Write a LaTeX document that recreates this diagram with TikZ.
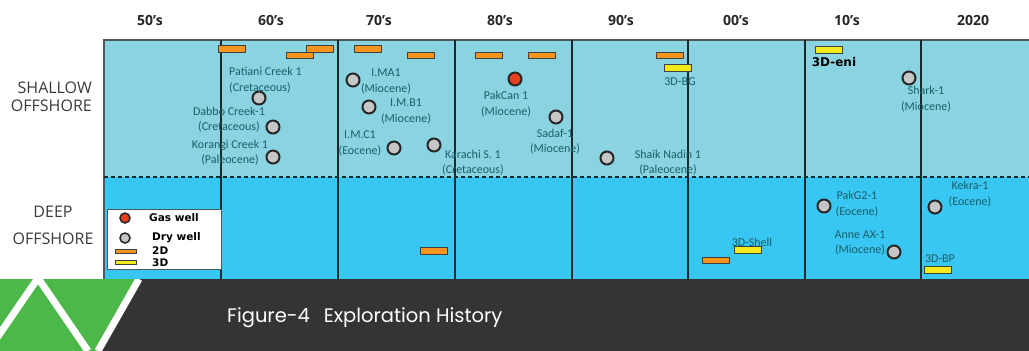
\documentclass[tikz,border=0pt]{standalone}
\usepackage{fontspec}
\setmainfont{Carlito}
\newfontfamily\hdrfont{Open Sans}
\newfontfamily\popfont{Poppins}
\newfontfamily\legfont{DejaVu Sans}
\definecolor{shallowblue}{HTML}{8AD3E1}
\definecolor{deepblue}{HTML}{38C6F2}
\definecolor{labelteal}{HTML}{1A5F69}
\definecolor{gridline}{HTML}{1A2A2C}
\definecolor{frameline}{HTML}{4D5A5C}
\definecolor{barorange}{HTML}{F7941D}
\definecolor{baryellow}{HTML}{F2EA1A}
\definecolor{wellgrey}{HTML}{C6C6C6}
\definecolor{wellred}{HTML}{E8401C}
\definecolor{darkband}{HTML}{333434}
\definecolor{logogreen}{HTML}{4DB84A}
\definecolor{sidetext}{HTML}{3A3A3A}
\tikzset{
  drywell/.style={circle, draw=black!85, line width=2, fill=wellgrey, inner sep=0, minimum size=13},
  gaswell/.style={circle, draw=black!85, line width=2, fill=wellred, inner sep=0, minimum size=13},
  orangebar/.style={rectangle, draw=black!75, line width=0.9, fill=barorange, inner sep=0, minimum width=27, minimum height=6.5},
  yellowbar/.style={rectangle, draw=black!75, line width=0.9, fill=baryellow, inner sep=0, minimum width=27, minimum height=6.5},
  lbl/.style={text=labelteal, font=\fontsize{12}{15.5}\selectfont, align=center, inner sep=0},
  hdr/.style={font=\hdrfont\bfseries\fontsize{14}{16}\selectfont, text=black!85, inner sep=0},
  side/.style={text=sidetext, inner sep=0},
  legtext/.style={font=\legfont\bfseries\fontsize{10.5}{12}\selectfont, text=black, inner sep=0, anchor=west},
  gridv/.style={draw=gridline, line width=1.5},
}
\begin{document}
\begin{tikzpicture}[x=1pt,y=-1pt]
\useasboundingbox (0,0) rectangle (1029,351);
\fill[white] (0,0) rectangle (1029,351);
% regions
\fill[shallowblue] (104,40) rectangle (1029,177);
\fill[deepblue] (104,177) rectangle (1029,279);
\draw[frameline, line width=1.5] (104,279) -- (104,40) -- (1029,40);
\foreach \x in {221,338,455,572,688,805,921}{
  \draw[gridv] (\x,40) -- (\x,279);
}
\draw[gridline, line width=1.2, dash pattern=on 4 off 3] (104,177) -- (1029,177);

% headers
\node[hdr] (h50) at (150,20) {50’s};
\node[hdr] (h60) at (271,20) {60’s};
\node[hdr] (h70) at (379,20) {70’s};
\node[hdr] (h80) at (500,20) {80’s};
\node[hdr] (h90) at (621,20) {90’s};
\node[hdr] (h00) at (736,20) {00’s};
\node[hdr] (h10) at (847,20) {10’s};
\node[hdr] (h20) at (973,20) {2020};

% side labels
\node[side, align=right, anchor=east, font=\hdrfont\fontsize{16}{18}\selectfont] (shallow) at (92,97) {SHALLOW\\OFFSHORE};
\node[side, align=center, font=\hdrfont\fontsize{16}{27}\selectfont] (deep) at (53,225.5) {DEEP\\OFFSHORE};

% bars (shallow)
\node[orangebar] (b1) at (232,49) {};
\node[orangebar] (b2) at (300,55.5) {};
\node[orangebar] (b3) at (319.5,49) {};
\node[orangebar] (b4) at (367.5,49) {};
\node[orangebar] (b5) at (421,55.5) {};
\node[orangebar] (b6) at (489,55.5) {};
\node[orangebar] (b7) at (541.5,55.5) {};
\node[orangebar] (b8) at (670,55.5) {};
\node[yellowbar] (y1) at (677.5,68) {};
\node[yellowbar] (y2) at (828.5,50) {};
% bars (deep)
\node[orangebar] (b9) at (434,251) {};
\node[orangebar] (b10) at (715.5,260.5) {};
\node[yellowbar] (y3) at (747.5,250) {};
\node[yellowbar] (y4) at (937.5,270) {};

% wells
\node[drywell] (w1) at (259,98) {};
\node[drywell] (w2) at (273,127) {};
\node[drywell] (w3) at (273,157) {};
\node[drywell] (w4) at (353,80) {};
\node[drywell] (w5) at (369,107) {};
\node[drywell] (w6) at (394,148) {};
\node[drywell] (w7) at (434,145) {};
\node[gaswell] (w8) at (515,79) {};
\node[drywell] (w9) at (556,117) {};
\node[drywell] (w10) at (607,158) {};
\node[drywell] (w11) at (909,78) {};
\node[drywell] (w12) at (824,206) {};
\node[drywell] (w13) at (894,252) {};
\node[drywell] (w14) at (935,207) {};

% labels
\node[lbl, align=left, anchor=west] (l1) at (229,80) {Patiani Creek 1\\(Cretaceous)};
\node[lbl] (l2) at (229,119.5) {Dabbo Creek-1\\(Cretaceous)};
\node[lbl] (l3) at (230,152.5) {Korangi Creek 1\\(Paleocene)};
\node[lbl] (l4) at (386,81.5) {I.MA1\\(Miocene)};
\node[lbl] (l5) at (406,111.5) {I.M.B1\\(Miocene)};
\node[lbl] (l6) at (360,143.5) {I.M.C1\\(Eocene)};
\node[lbl] (l7) at (473,162.5) {Karachi S. 1\\(Cretaceous)};
\node[lbl] (l8) at (506,104) {PakCan 1\\(Miocene)};
\node[lbl] (l9) at (555,141.5) {Sadaf-1\\(Miocene)};
\node[lbl] (l10) at (668,162.5) {Shaik Nadin 1\\(Paleocene)};
\node[lbl] (l11) at (680,82) {3D-BG};
\node[font=\legfont\bfseries\fontsize{12}{13}\selectfont, inner sep=0] (l12) at (834,62) {3D-eni};
\node[lbl] (l13) at (926,99) {Shark-1\\(Miocene)};
\node[lbl] (l14) at (857,204) {PakG2-1\\(Eocene)};
\node[lbl] (l15) at (860,243) {Anne AX-1\\(Miocene)};
\node[lbl] (l16) at (970,194) {Kekra-1\\(Eocene)};
\node[lbl] (l17) at (752,242) {3D-Shell};
\node[lbl] (l18) at (940,259) {3D-BP};

% legend
\node[draw=frameline, line width=1, fill=white, minimum width=114, minimum height=60, inner sep=0] (legend) at (164,239) {};
\node[circle, draw=black!85, line width=1.5, fill=wellred, inner sep=0, minimum size=10] (lg1) at (125,218) {};
\node[legtext] (lt1) at (149,218) {Gas well};
\node[circle, draw=black!85, line width=1.5, fill=wellgrey, inner sep=0, minimum size=10] (lg2) at (125,238) {};
\node[legtext] (lt2) at (152,238) {Dry well};
\node[orangebar, minimum width=21, minimum height=4] (lg3) at (125.5,251) {};
\node[legtext] (lt3) at (152,251) {2D};
\node[yellowbar, minimum width=21, minimum height=4] (lg4) at (125.5,262) {};
\node[legtext] (lt4) at (152,263) {3D};

% bottom band
\fill[darkband] (0,279) rectangle (1029,351);
\begin{scope}
  \clip (0,279) rectangle (1029,351);
  \fill[logogreen] (0,279) -- (139,279) -- (98,351) -- (0,351) -- cycle;
  \draw[white, line width=7] (139,279) -- (98,351);
  \draw[white, line width=7, line join=miter] (-10,348) -- (38,278) -- (88,351);
\end{scope}
\node[anchor=west, font=\popfont\fontsize{19.5}{21}\selectfont, text=white, inner sep=0] (caption) at (227,318) {Figure-4\hspace{14pt}Exploration History};
\end{tikzpicture}
\end{document}
